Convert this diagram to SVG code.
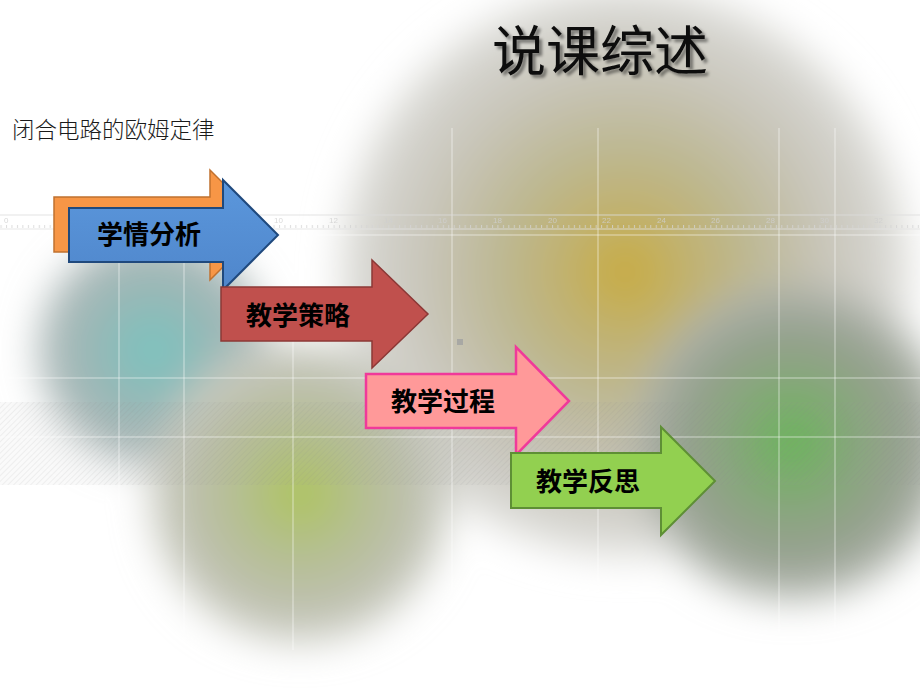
<svg xmlns="http://www.w3.org/2000/svg" width="920" height="690" viewBox="0 0 920 690">
<defs>
<style>
.lbl{font-family:"Noto Sans CJK SC","Noto Sans CJK TC",sans-serif;font-weight:bold;font-size:26px;fill:#000}
.grid{stroke:#ffffff;stroke-opacity:0.55;stroke-width:1}
.rnum{font-family:"Liberation Sans",sans-serif;font-size:8px;fill:#cfcfcf}
</style>
<filter id="soft" x="-30%" y="-30%" width="160%" height="160%"><feGaussianBlur stdDeviation="19"/></filter>
<filter id="tshadow" x="-10%" y="-20%" width="130%" height="160%"><feDropShadow dx="3" dy="3" stdDeviation="1.6" flood-color="#000" flood-opacity="0.45"/></filter>
<radialGradient id="gGold" cx="0.5" cy="0.5" r="0.5">
<stop offset="0" stop-color="#caab3a"/>
<stop offset="0.2" stop-color="#c1b16b"/>
<stop offset="0.45" stop-color="#bdb894"/>
<stop offset="0.7" stop-color="#c8c5b9"/>
<stop offset="0.88" stop-color="#d3d2cc"/>
<stop offset="1" stop-color="#e2e2df"/>
</radialGradient>
<radialGradient id="gTeal" cx="0.5" cy="0.5" r="0.5">
<stop offset="0" stop-color="#78c6c1"/>
<stop offset="0.45" stop-color="#92b8b6"/>
<stop offset="1" stop-color="#b4b9b9"/>
</radialGradient>
<radialGradient id="gLime" cx="0.5" cy="0.5" r="0.5">
<stop offset="0" stop-color="#aec654"/>
<stop offset="0.35" stop-color="#b3bf8a"/>
<stop offset="0.75" stop-color="#bdbfae"/>
<stop offset="1" stop-color="#cfd0c9"/>
</radialGradient>
<radialGradient id="gGreen" cx="0.5" cy="0.5" r="0.5">
<stop offset="0" stop-color="#63b951"/>
<stop offset="0.4" stop-color="#87a67b"/>
<stop offset="0.75" stop-color="#98a192"/>
<stop offset="1" stop-color="#b6b9b3"/>
</radialGradient>
<linearGradient id="gBlue" x1="0" y1="0" x2="0" y2="1">
<stop offset="0" stop-color="#5b97dc"/>
<stop offset="1" stop-color="#4f86cb"/>
</linearGradient>
<pattern id="hatch" width="4" height="4" patternUnits="userSpaceOnUse" patternTransform="rotate(45)">
<rect width="4" height="4" fill="#9a9a9a" fill-opacity="0.05"/>
<line x1="0" y1="0" x2="0" y2="4" stroke="#8a8a8a" stroke-opacity="0.2" stroke-width="1"/>
</pattern>
<pattern id="ticks" width="5.46" height="16" patternUnits="userSpaceOnUse" x="6" y="214">
<line x1="0.5" y1="11" x2="0.5" y2="14" stroke="#d4d4d4" stroke-width="1"/>
</pattern>
</defs>

<rect width="920" height="690" fill="#ffffff"/>

<g id="background">
<g filter="url(#soft)">
<circle cx="625" cy="272" r="285" fill="url(#gGold)"/>
<circle cx="153" cy="350" r="115" fill="url(#gTeal)"/>
<circle cx="300" cy="493" r="150" fill="url(#gLime)"/>
<circle cx="792" cy="442" r="158" fill="url(#gGreen)"/>
</g>
<rect x="0" y="402" width="920" height="83" fill="url(#hatch)"/>
<g class="grid">
<line x1="119" y1="128" x2="119" y2="650"/>
<line x1="184" y1="128" x2="184" y2="650"/>
<line x1="293" y1="128" x2="293" y2="650"/>
<line x1="452" y1="128" x2="452" y2="650"/>
<line x1="598" y1="128" x2="598" y2="650"/>
<line x1="779" y1="128" x2="779" y2="650"/>
<line x1="835" y1="128" x2="835" y2="650"/>
<line x1="0" y1="235" x2="920" y2="235"/>
<line x1="0" y1="378" x2="920" y2="378"/>
<line x1="0" y1="437" x2="920" y2="437"/>
</g>
<g id="ruler" opacity="0.8">
<line x1="0" y1="215" x2="920" y2="215" stroke="#dcdcdc" stroke-width="1"/>
<rect x="0" y="214" width="920" height="16" fill="url(#ticks)"/>
<line x1="0" y1="229" x2="920" y2="229" stroke="#e2e2e2" stroke-width="1"/>
<text class="rnum" x="4" y="223">0</text>
<text class="rnum" x="60" y="223">2</text>
<text class="rnum" x="221" y="223">8</text>
<text class="rnum" x="274" y="223">10</text>
<text class="rnum" x="329" y="223">12</text>
<text class="rnum" x="384" y="223">14</text>
<text class="rnum" x="438" y="223">16</text>
<text class="rnum" x="493" y="223">18</text>
<text class="rnum" x="548" y="223">20</text>
<text class="rnum" x="602" y="223">22</text>
<text class="rnum" x="657" y="223">24</text>
<text class="rnum" x="711" y="223">26</text>
<text class="rnum" x="766" y="223">28</text>
<text class="rnum" x="820" y="223">30</text>
<text class="rnum" x="874" y="223">32</text>
</g>
<rect x="457" y="339" width="6" height="6" fill="#a8a8a4"/>
</g>

<g id="title">
<text x="600" y="71" text-anchor="middle" filter="url(#tshadow)" style="font-family:'Noto Sans CJK SC','Noto Sans CJK TC',sans-serif;font-size:54px;fill:#111">说课综述</text>
</g>
<g id="subtitle">
<text x="12" y="138" style="font-family:'Noto Sans CJK SC','Noto Sans CJK TC',sans-serif;font-size:22.5px;font-weight:300;fill:#1a1a1a">闭合电路的欧姆定律</text>
</g>

<g id="arrow-orange">
<polygon points="54,197 210,197 210,170 265,225 210,280 210,252 54,252" fill="#f79646" stroke="#c0712f" stroke-width="1.5"/>
</g>
<g id="node-xueqing">
<polygon points="69,208 223,208 223,180 278,235 223,290 223,262 69,262" fill="url(#gBlue)" stroke="#1f497d" stroke-width="2"/>
<text class="lbl" x="97" y="244">学情分析</text>
</g>
<g id="node-celue">
<polygon points="221,287 372,287 372,260 428,314 372,368 372,341 221,341" fill="#c0504d" stroke="#8c3836" stroke-width="1.5"/>
<text class="lbl" x="246" y="325">教学策略</text>
</g>
<g id="node-guocheng">
<polygon points="366,374 516,374 516,347 569,401 516,455 516,428 366,428" fill="#ff9999" stroke="#f0399a" stroke-width="2.5"/>
<text class="lbl" x="391" y="411">教学过程</text>
</g>
<g id="node-fansi">
<polygon points="511,453 661,453 661,427 715,481 661,535 661,508 511,508" fill="#92d050" stroke="#5e8f35" stroke-width="2"/>
<text class="lbl" x="536" y="491">教学反思</text>
</g>
</svg>
